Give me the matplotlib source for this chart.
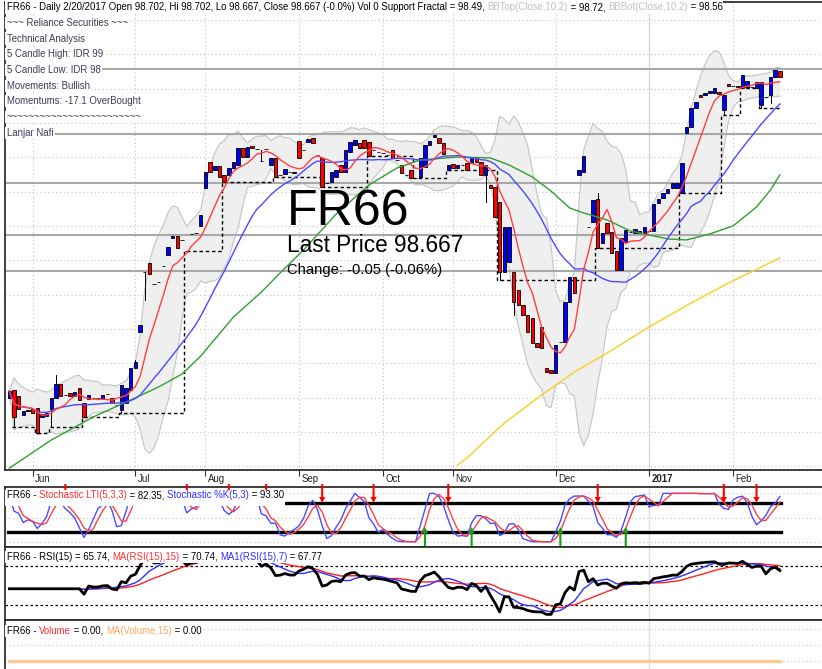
import numpy as np
import pandas as pd
import matplotlib
matplotlib.use("Agg")
import matplotlib.pyplot as plt
from matplotlib import font_manager
from matplotlib.patches import Rectangle, Polygon

W, H = 822, 669

# FR66 daily bars, late May 2016 .. 20 Feb 2017
opens = [
    96.799, 96.845, 96.810, 96.700, 96.730, 96.735, 96.740, 96.688, 96.694, 96.735,
    96.799, 96.880, 96.816, 96.828, 96.810, 96.857, 96.769, 96.793, 96.799, 96.800,
    96.793, 96.822, 96.799, 96.758, 96.729, 96.769, 96.845, 96.973, 97.183, 97.533,
    97.585, 97.463, 97.474, 97.568, 97.632, 97.731, 97.742, 97.719, 97.655, 97.754,
    97.760, 97.801, 98.022, 98.173, 98.127, 98.150, 98.098, 98.098, 98.138, 98.156,
    98.255, 98.202, 98.267, 98.249, 98.179, 98.249, 98.156, 98.197, 98.098, 98.103,
    98.115, 98.113, 98.296, 98.243, 98.290, 98.313, 98.214, 98.197, 98.051, 98.057,
    98.086, 98.156, 98.115, 98.232, 98.272, 98.284, 98.302, 98.290, 98.243, 98.232,
    98.226, 98.214, 98.243, 98.185, 98.156, 98.098, 98.127, 98.080, 98.086, 98.144,
    98.272, 98.319, 98.313, 98.284, 98.127, 98.162, 98.138, 98.156, 98.168, 98.168,
    98.202, 98.173, 98.098, 98.039, 98.028, 97.940, 97.533, 97.591, 97.533, 97.428,
    97.340, 97.282, 97.265, 97.119, 97.212, 96.973, 96.962, 96.944, 97.125, 97.125,
    97.358, 97.503, 98.098, 98.115, 97.795, 97.824, 97.958, 97.702, 97.818, 97.766,
    97.655, 97.544, 97.707, 97.766, 97.760, 97.771, 97.760, 97.771, 97.771, 97.935,
    97.964, 97.993, 98.022, 98.022, 97.993, 98.342, 98.377, 98.488, 98.564, 98.564,
    98.575, 98.575, 98.581, 98.476, 98.628, 98.616, 98.616, 98.604, 98.610, 98.610,
    98.604, 98.505, 98.552, 98.564, 98.668, 98.702,
]
closes = [
    96.839, 96.688, 96.735, 96.723, 96.725, 96.711, 96.595, 96.705, 96.711, 96.799,
    96.880, 96.810, 96.814, 96.810, 96.834, 96.787, 96.688, 96.816, 96.797, 96.799,
    96.816, 96.820, 96.769, 96.756, 96.874, 96.857, 96.973, 97.008, 97.224, 97.531,
    97.521, 97.461, 97.472, 97.566, 97.678, 97.742, 97.673, 97.717, 97.653, 97.752,
    97.758, 97.865, 98.115, 98.115, 98.150, 98.086, 98.057, 98.138, 98.173, 98.255,
    98.202, 98.261, 98.255, 98.247, 98.177, 98.247, 98.197, 98.086, 98.096, 98.133,
    98.113, 98.111, 98.197, 98.241, 98.307, 98.284, 98.212, 98.028, 98.049, 98.115,
    98.127, 98.115, 98.243, 98.290, 98.302, 98.255, 98.255, 98.208, 98.241, 98.230,
    98.224, 98.212, 98.197, 98.183, 98.109, 98.096, 98.080, 98.078, 98.197, 98.272,
    98.296, 98.331, 98.284, 98.220, 98.156, 98.138, 98.156, 98.154, 98.127, 98.197,
    98.173, 98.098, 98.156, 98.022, 97.853, 97.533, 97.795, 97.795, 97.358, 97.340,
    97.282, 97.183, 97.119, 97.096, 97.090, 96.950, 96.944, 97.107, 97.123, 97.358,
    97.503, 97.410, 98.127, 98.208, 97.793, 97.952, 97.673, 97.760, 97.760, 97.643,
    97.544, 97.731, 97.777, 97.764, 97.783, 97.760, 97.795, 97.769, 97.929, 97.958,
    97.993, 98.016, 98.051, 98.051, 98.168, 98.377, 98.488, 98.523, 98.552, 98.575,
    98.587, 98.604, 98.569, 98.564, 98.616, 98.614, 98.610, 98.680, 98.645, 98.608,
    98.639, 98.639, 98.550, 98.668, 98.709, 98.667,
]
# only the visible long shadows
wick_high = {10: 96.932, 27: 97.020, 54: 98.243, 126: 97.993}
wick_low = {1: 96.630, 9: 96.630, 24: 96.711, 29: 97.370, 102: 97.940,
            105: 97.486, 108: 97.282, 153: 98.447, 161: 98.490, 163: 98.517}
volume = [0.0] * len(closes)

month_bars = [5, 27, 42, 62, 80, 95, 117, 137, 155]
month_names = ["Jun", "Jul", "Aug", "Sep", "Oct", "Nov", "Dec", "2017", "Feb"]

ma_green_bars = [0, 2, 9, 18, 26, 32, 37, 41, 48, 54, 58, 63, 70, 77, 83, 88, 96,
                 103, 107, 112, 116, 120, 123, 128, 133, 141, 145, 150, 155, 160, 163, 165]
ma_green_vals = [96.39, 96.426, 96.554, 96.688, 96.787, 96.863, 96.938, 97.043, 97.270,
                 97.416, 97.527, 97.661, 97.870, 98.039, 98.138, 98.185, 98.202, 98.197,
                 98.156, 98.086, 98.004, 97.905, 97.876, 97.836, 97.771, 97.725, 97.719,
                 97.754, 97.801, 97.911, 98.010, 98.098]
ma_yellow_bars = [96, 98, 106, 114, 121, 128, 137, 146, 154, 165]
ma_yellow_vals = [96.408, 96.449, 96.653, 96.816, 96.950, 97.060, 97.212, 97.352, 97.468, 97.614]

levels = [98.715, 98.339, 98.051, 97.748, 97.539]
sell_bars = [12, 38, 47, 55, 67, 78, 94, 126, 153, 160]
buy_bars = [89, 99, 118, 132]

# ---- indicators ----
o = np.array(opens)
c = np.array(closes)
n = len(c)
idx = np.arange(n)
hi = np.maximum(o, c)
lo = np.minimum(o, c)
for k, v in wick_high.items():
    hi[k] = max(hi[k], v)
for k, v in wick_low.items():
    lo[k] = min(lo[k], v)

cs = pd.Series(c)
ma_red = cs.rolling(7, min_periods=1).mean()
ma_blue = cs.rolling(25, min_periods=1).mean()
bb_mid = cs.rolling(10, min_periods=1).mean()
bb_sd = cs.rolling(10, min_periods=1).std(ddof=0)
bb_top = bb_mid + 2 * bb_sd
bb_bot = bb_mid - 2 * bb_sd

support = np.full(n, np.nan)
last = np.nan
for i in range(1, n):
    nb = [j for j in range(i - 2, i + 3) if 0 <= j < n and j != i]
    if all(lo[i] < lo[j] for j in nb):
        last = lo[i]
    support[i] = last

hh = pd.Series(hi).rolling(5, min_periods=1).max()
ll = pd.Series(lo).rolling(5, min_periods=1).min()
raw = 100 * (cs - ll) / (hh - ll).replace(0, np.nan)
stk = raw.fillna(50).rolling(3, min_periods=1).mean()
std_ = stk.rolling(3, min_periods=1).mean()

# Wilder RSI(15), seeded with a simple average of the first 15 changes
per = 15
delta = cs.diff().fillna(0).to_numpy()
ups = np.clip(delta, 0, None)
dns = np.clip(-delta, 0, None)
au = np.full(n, np.nan)
ad = np.full(n, np.nan)
au[per] = ups[1:per + 1].mean()
ad[per] = dns[1:per + 1].mean()
for i in range(per + 1, n):
    au[i] = (au[i - 1] * (per - 1) + ups[i]) / per
    ad[i] = (ad[i - 1] * (per - 1) + dns[i]) / per
rsi = pd.Series(100 - 100 / (1 + au / ad)).bfill()
rsi_ma15 = rsi.rolling(15, min_periods=1).mean()
rsi_ma7 = rsi.rolling(7, min_periods=1).mean()
vol_ma = pd.Series(volume).rolling(15, min_periods=1).mean()

# ---- fonts ----
names = {f.name for f in font_manager.fontManager.ttflist}
if "Liberation Sans Narrow" in names:
    FONT = ["Liberation Sans Narrow", "DejaVu Sans"]
    k = 1.0
else:
    FONT = ["Liberation Sans", "DejaVu Sans"]
    k = 0.82

# ---- layout (pixel boxes) ----
fig = plt.figure(figsize=(W / 100, H / 100), dpi=100)
fig.patch.set_facecolor("white")


def box(l, t, r, b):
    return [l / W, 1 - b / H, (r - l) / W, (b - t) / H]


ax = fig.add_axes(box(5, 2, 830, 470))
ax_st = fig.add_axes(box(5, 487, 830, 546.5))
ax_rsi = fig.add_axes(box(5, 546.5, 830, 620))
ax_vol = fig.add_axes(box(5, 620, 830, 676))

x0 = (5 - 9.3) / 4.67
x1 = (830 - 9.3) / 4.67
for a in (ax, ax_st, ax_rsi, ax_vol):
    a.set_xlim(x0, x1)
    a.set_yticks([])
    for s in a.spines.values():
        s.set_color("#303030")
        s.set_linewidth(1.3)
    a.tick_params(axis="x", bottom=False, labelbottom=False)
    a.axvline(137, color="#dcdcf6", lw=1, zorder=0)

# main pane
ax.set_ylim(96.379, 99.105)
for v in np.arange(96.4, 99.01, 0.2):
    ax.axhline(v, color="#c4c4c4", ls=(0, (1, 2.5)), lw=0.8, zorder=0)
for b in month_bars:
    ax.axvline(b, color="#c4c4c4", ls=(0, (1, 2.5)), lw=0.8, zorder=0)
ax.set_xticks(month_bars)
ax.tick_params(axis="x", bottom=True, direction="out", length=4, width=0.8, color="#303030")

ax.fill_between(idx, bb_bot, bb_top, facecolor="#efefef", edgecolor="none", zorder=1)
ax.plot(idx, bb_top, color="#c4c4c4", lw=0.8, zorder=1.1)
ax.plot(idx, bb_bot, color="#c4c4c4", lw=0.8, zorder=1.1)
for v in levels:
    ax.axhline(v, color="#a8a8a8", lw=1.5, zorder=1.5)

ax.plot(idx, support, color="black", lw=1, ls=(0, (2.5, 2)), drawstyle="steps-mid", zorder=2)

for i in idx:
    col = "#0000ff" if c[i] >= o[i] else "#ff0000"
    ax.plot([i, i], [lo[i], hi[i]], color="black", lw=0.7, zorder=3)
    bot = min(o[i], c[i])
    hgt = max(abs(c[i] - o[i]), 0.002)
    ax.add_patch(Rectangle((i - 0.37, bot), 0.74, hgt, facecolor=col,
                           edgecolor="black", lw=0.6, zorder=4))

ax.plot(ma_yellow_bars, ma_yellow_vals, color="#f6d232", lw=1.1, zorder=5)
ax.plot(ma_green_bars, ma_green_vals, color="#30a030", lw=1.0, zorder=5)
ax.plot(idx, ma_blue, color="#4a4aff", lw=1.0, zorder=5)
ax.plot(idx, ma_red, color="#ff4040", lw=1.0, zorder=5)

# stochastic pane
ax_st.set_ylim(-9.9, 113.2)
for v in (0, 50, 100):
    ax_st.axhline(v, color="#c4c4c4", ls=(0, (1, 2.5)), lw=0.8, zorder=0)
ax_st.plot([-0.3, n - 0.7], [80, 80], color="black", lw=2.4, zorder=2)
ax_st.plot([-0.3, n - 0.7], [20, 20], color="black", lw=2.4, zorder=2)
ax_st.plot(idx, stk, color="#4a4aff", lw=1.0, zorder=3)
ax_st.plot(idx, std_, color="#ff4040", lw=1.0, zorder=3)
for b in sell_bars:
    pts = [(b - 0.22, 119.4), (b + 0.22, 119.4), (b + 0.22, 92.5), (b + 0.66, 92.5),
           (b, 80.1), (b - 0.66, 92.5), (b - 0.22, 92.5)]
    ax_st.add_patch(Polygon(pts, closed=True, facecolor="#ff0000", edgecolor="none",
                            clip_on=False, zorder=4))
for b in buy_bars:
    pts = [(b - 0.22, -9.9), (b + 0.22, -9.9), (b + 0.22, 18.0), (b + 0.66, 18.0),
           (b, 30.4), (b - 0.66, 18.0), (b - 0.22, 18.0)]
    ax_st.add_patch(Polygon(pts, closed=True, facecolor="#10a010", edgecolor="none",
                            clip_on=False, zorder=4))

# RSI pane
ax_rsi.set_ylim(14.6, 90.0)
for v in (30, 70):
    ax_rsi.axhline(v, color="black", ls=(0, (2, 2)), lw=0.9, zorder=1)
ax_rsi.plot(idx, rsi_ma15, color="#ff2020", lw=1.0, zorder=3)
ax_rsi.plot(idx, rsi_ma7, color="#3030ff", lw=1.0, zorder=3)
ax_rsi.plot(idx, rsi, color="black", lw=2.0, zorder=4)

# volume pane
ax_vol.set_ylim(-0.9375, 2.5625)
for v in (0, 1, 2):
    ax_vol.axhline(v, color="#c4c4c4", ls=(0, (1, 2.5)), lw=0.8, zorder=0)
ax_vol.bar(idx, volume, width=0.7, color="#4a4aff")
ax_vol.plot(idx, vol_ma, color="#ffc890", lw=2.2, zorder=3)

# ---- text ----
renderer = fig.canvas.get_renderer()


def text_line(x_px, y_px, parts, size, pad_bottom=0, mask=True):
    x = x_px
    boxes = []
    for s, col in parts:
        t = fig.text(x / W, 1 - y_px / H, s, color=col, fontsize=size * k,
                     family=FONT, ha="left", va="center", zorder=12)
        bb = t.get_window_extent(renderer)
        boxes.append(bb)
        x = bb.x1
    if mask:
        y0 = min(b.y0 for b in boxes) - 1 - pad_bottom
        y1 = max(b.y1 for b in boxes) + 1
        fig.add_artist(Rectangle(((x_px - 2) / W, y0 / H), (x - x_px + 3) / W, (y1 - y0) / H,
                                 transform=fig.transFigure, facecolor="white",
                                 edgecolor="none", zorder=11))


blk = "black"
grey = "#c0c0c0"
note = "#3c3c56"
text_line(7, 7.5, [("FR66 - Daily 2/20/2017 Open 98.702, Hi 98.702, Lo 98.667, Close 98.667 "
                    "(-0.0%) Vol 0 Support Fractal = 98.49, ", blk),
                   ("BBTop(Close,10,2)", grey), (" = 98.72, ", blk),
                   ("BBBot(Close,10,2)", grey), (" = 98.56", blk)], 8.5)
notes = ["~~~ Reliance Securities ~~~", "Technical Analysis", "5 Candle High: IDR 99",
         "5 Candle Low: IDR 98", "Movements: Bullish", "Momentums: -17.1 OverBought",
         "~" * 24, "Lanjar Nafi"]
for j, s in enumerate(notes):
    text_line(7, 22.8 + 15.7 * j, [(s, note)], 8.5)

text_line(7, 495.5, [("FR66 - ", blk), ("Stochastic LTI(5,3,3)", "#ff3030"),
                     (" = 82.35, ", blk), ("Stochastic %K(5,3)", "#3030ff"),
                     (" = 93.30", blk)], 8.5, pad_bottom=4)
text_line(7, 556.5, [("FR66 - RSI(15) = 65.74, ", blk), ("MA(RSI(15),15)", "#ff3030"),
                     (" = 70.74, ", blk), ("MA1(RSI(15),7)", "#3030ff"),
                     (" = 67.77", blk)], 8.5)
text_line(7, 630.5, [("FR66 - ", blk), ("Volume", "#ff3030"), (" = 0.00, ", blk),
                     ("MA(Volume,15)", "#ffa860"), (" = 0.00", blk)], 8.5)

for b, name in zip(month_bars, month_names):
    xp = 9.3 + 4.67 * b + 2.5
    fig.text(xp / W, 1 - 478.5 / H, name, fontsize=8.5 * k, family=FONT,
             fontweight="bold" if name == "2017" else "normal",
             ha="left", va="center", color="#202020")

fig.text(287 / W, 1 - 225 / H, "FR66", fontsize=44 * k, family=FONT, color="black",
         ha="left", va="baseline", zorder=6)
fig.text(287 / W, 1 - 252 / H, "Last Price 98.667", fontsize=19.9 * k, family=FONT,
         color="black", ha="left", va="baseline", zorder=6)
fig.text(287 / W, 1 - 274 / H, "Change: -0.05 (-0.06%)", fontsize=13 * k, family=FONT,
         color="black", ha="left", va="baseline", zorder=6)

fig.savefig("out.png", dpi=100)
